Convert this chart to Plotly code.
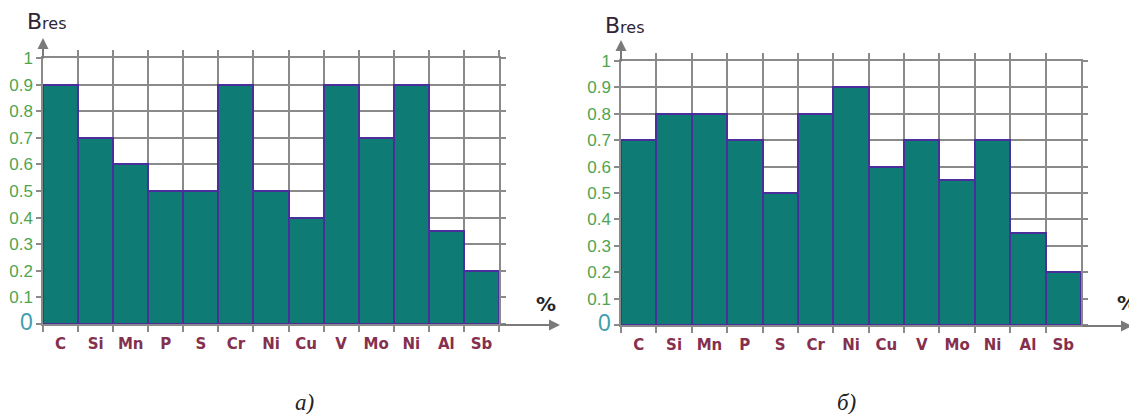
import plotly.graph_objects as go

# ---- data ----
elements = ["C", "Si", "Mn", "P", "S", "Cr", "Ni", "Cu", "V", "Mo", "Ni", "Al", "Sb"]
bres_a = [0.9, 0.7, 0.6, 0.5, 0.5, 0.9, 0.5, 0.4, 0.9, 0.7, 0.9, 0.35, 0.2]
bres_b = [0.7, 0.8, 0.8, 0.7, 0.5, 0.8, 0.9, 0.6, 0.7, 0.55, 0.7, 0.35, 0.2]
y_ticks = [0, 0.1, 0.2, 0.3, 0.4, 0.5, 0.6, 0.7, 0.8, 0.9, 1]
y_tick_labels = ["0", "0.1", "0.2", "0.3", "0.4", "0.5", "0.6", "0.7", "0.8", "0.9", "1"]
captions = ["а)", "б)"]

# the page body has an 8px margin, so the figure is offset by (8, 8)
OFF = 8
W, H = 1137 - OFF, 414 - OFF

# unique category keys (the element "Ni" appears twice)
def unique_keys(labels):
    seen = {}
    out = []
    for lab in labels:
        n = seen.get(lab, 0)
        out.append(lab + "\u200b" * n)
        seen[lab] = n + 1
    return out

cats = unique_keys(elements)

GRID = "#8a8a8a"
FILL = "#0f7b75"
EDGE = "#4a2f9c"
YLAB = "#4fa54f"
XLAB = "#84304e"

ytext = []
for v, t in zip(y_ticks, y_tick_labels):
    if v == 0:
        ytext.append("<span style='font-size:23px;color:#3f9fae'>0</span>")
    else:
        ytext.append(t)

fig = go.Figure()
fig.add_trace(go.Bar(x=cats, y=bres_a, width=1, xaxis="x", yaxis="y",
                     marker=dict(color=FILL, line=dict(color=EDGE, width=2)),
                     showlegend=False))
fig.add_trace(go.Bar(x=cats, y=bres_b, width=1, xaxis="x2", yaxis="y2",
                     marker=dict(color=FILL, line=dict(color=EDGE, width=2)),
                     showlegend=False))

# pixel geometry (screenshot coordinates) of the two plot areas
panels = [
    dict(x0=43, x1=499, ytop=58, ybot=324),
    dict(x0=621, x1=1081, ytop=61, ybot=325),
]

def px(x):
    return (x - OFF) / W

def py(y):
    return (H - (y - OFF)) / H

def xdom(p):
    return [px(p["x0"]), px(p["x1"])]

def ydom(p):
    return [py(p["ybot"]), py(p["ytop"])]

xaxis_common = dict(
    type="category", categoryorder="array", categoryarray=cats,
    range=[-0.5, len(cats) - 0.5], automargin=False, tickangle=0,
    tickson="boundaries", ticks="outside", ticklen=6, tickwidth=1.5, tickcolor=GRID,
    showgrid=True, gridcolor=GRID, gridwidth=1.5,
    showline=True, linecolor=GRID, linewidth=1.5, mirror="ticks",
    tickfont=dict(family="DejaVu Sans", size=15, color=XLAB, weight="bold"),
    tickvals=cats, ticktext=elements, ticklabelstandoff=5,
    fixedrange=True,
)
yaxis_common = dict(
    range=[0, 1], tickmode="array", tickvals=y_ticks, ticktext=ytext, automargin=False,
    ticks="outside", ticklen=5, tickwidth=1.5, tickcolor=GRID,
    showgrid=True, gridcolor=GRID, gridwidth=1.5, zeroline=False,
    showline=True, linecolor=GRID, linewidth=1.5, mirror="ticks",
    tickfont=dict(family="Liberation Sans", size=17, color=YLAB),
    fixedrange=True,
)

fig.update_layout(
    width=W, height=H, autosize=False,
    margin=dict(l=0, r=0, t=0, b=0),
    paper_bgcolor="white", plot_bgcolor="white",
    bargap=0,
    xaxis=dict(domain=xdom(panels[0]), anchor="y", **xaxis_common),
    yaxis=dict(domain=ydom(panels[0]), anchor="x", **yaxis_common),
    xaxis2=dict(domain=xdom(panels[1]), anchor="y2", **xaxis_common),
    yaxis2=dict(domain=ydom(panels[1]), anchor="x2", **yaxis_common),
)

annotations = []
extras = [dict(ytip=38, xtip=560, bres=(47, 21), pct=(546, 304), cap=(304, 402)),
          dict(ytip=40, xtip=1132, bres=(625, 25), pct=(1127, 303), cap=(846, 402))]
for p, a, cap in zip(panels, extras, captions):
    # y-axis arrow
    annotations.append(dict(x=px(p["x0"]), y=py(a["ytip"]), xref="paper", yref="paper",
                            ax=0, ay=p["ytop"] - a["ytip"] + 2, axref="pixel", ayref="pixel",
                            text="", showarrow=True, arrowhead=2, arrowsize=1.1,
                            arrowwidth=2, arrowcolor="#7a7a7a"))
    # x-axis arrow
    annotations.append(dict(x=px(a["xtip"]), y=py(p["ybot"] + 1), xref="paper", yref="paper",
                            ax=-(a["xtip"] - p["x1"]), ay=0,
                            text="", showarrow=True, arrowhead=2, arrowsize=1.1,
                            arrowwidth=2, arrowcolor="#7a7a7a"))
    # axis titles
    annotations.append(dict(x=px(a["bres"][0]), y=py(a["bres"][1]), xref="paper", yref="paper",
                            text="<span style='font-size:22px'>B</span>res", showarrow=False,
                            xanchor="center", yanchor="middle",
                            font=dict(family="DejaVu Sans", size=16, color="#2f2535")))
    annotations.append(dict(x=px(a["pct"][0]), y=py(a["pct"][1]), xref="paper", yref="paper",
                            text="<b>%</b>", showarrow=False, xanchor="center", yanchor="middle",
                            font=dict(family="DejaVu Sans", size=20, color="#262626")))
    annotations.append(dict(x=px(a["cap"][0]), y=py(a["cap"][1]), xref="paper", yref="paper",
                            text="<i>" + cap + "</i>", showarrow=False, xanchor="center", yanchor="middle",
                            font=dict(family="Liberation Serif", size=23, color="#222222")))

fig.update_layout(annotations=annotations)

fig.write_html("out.html")
